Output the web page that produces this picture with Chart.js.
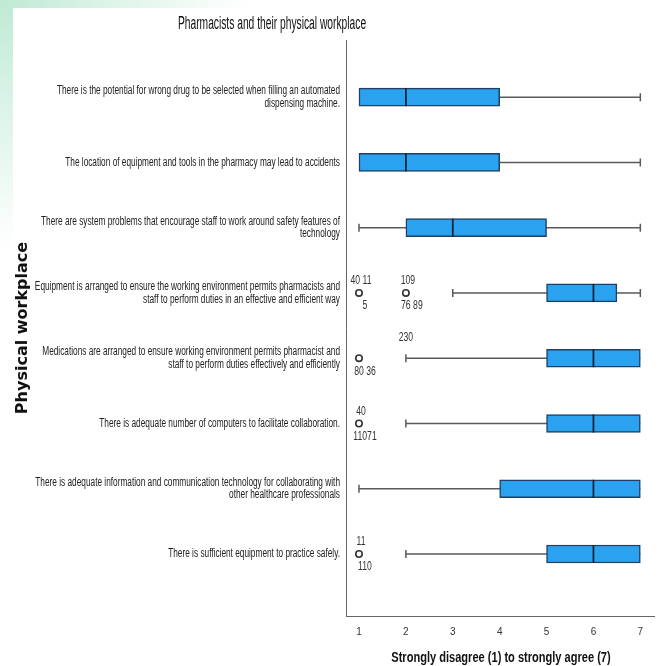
<!DOCTYPE html>
<html>
<head>
<meta charset="utf-8">
<script src="https://cdn.jsdelivr.net/npm/chart.js@4.4.1/dist/chart.umd.min.js"></script>
<style>
html, body { margin: 0; padding: 0; background: #fff; }
#wrap {
    width: 660px; height: 666px; position: relative;
    background: radial-gradient(circle at 0 0, #bfe9d3 0, #dcf4e8 110px, #fff 250px);
}
</style>
</head>
<body>
<div id="wrap"><canvas id="workplace_chart"></canvas></div>
<script>
const categories = [
    ['There is the potential for wrong drug to be selected when filling an automated', 'dispensing machine.'],
    'The location of equipment and tools in the pharmacy may lead to accidents',
    ['There are system problems that encourage staff to work around safety features of', 'technology'],
    ['Equipment is arranged to ensure the working environment permits pharmacists and', 'staff to perform duties in an effective and efficient way'],
    ['Medications are arranged to ensure working environment permits pharmacist and', 'staff to perform duties effectively and efficiently'],
    'There is adequate number of computers to facilitate collaboration.',
    ['There is adequate information and communication technology for collaborating with', 'other healthcare professionals'],
    'There is sufficient equipment to practice safely.'
];
const mins    = [1, 1, 1, 3, 2, 2, 1, 2];
const q1s     = [1, 1, 2, 5, 5, 5, 4, 5];
const medians = [2, 2, 3, 6, 6, 6, 6, 6];
const q3s     = [4, 4, 5, 6.5, 7, 7, 7, 7];
const maxs    = [7, 7, 7, 7, 7, 7, 7, 7];
const xTicks  = [1, 2, 3, 4, 5, 6, 7];

// outliers (circles) with their case numbers
const outlierRows   = [3, 3, 4, 5, 7];
const outlierValues = [1, 2, 1, 1, 1];
const outlierAbove  = ['40 11', '109', '', '40', '11'];
const outlierBelow  = ['5', '76 89', '80 36', '11071', '110'];
// case label printed without a circle
const looseRows   = [4];
const looseValues = [2];
const looseText   = ['230'];

const chartTitle = 'Pharmacists and their physical workplace';
const xTitle = 'Strongly disagree (1) to strongly agree (7)';
const yTitle = 'Physical workplace';

const SANS = "'Liberation Sans', Arial, sans-serif";

// SPSS output is squeezed sideways, so text is drawn with a horizontal scale
function squeezeText(ctx, text, x, y, sx, align) {
    ctx.save();
    ctx.translate(x, y);
    ctx.scale(sx, 1);
    ctx.textAlign = align;
    ctx.fillText(text, 0, 0);
    ctx.restore();
}

const boxExtras = {
    id: 'boxExtras',
    beforeDraw(chart) {
        const ctx = chart.ctx;
        ctx.save();
        ctx.fillStyle = '#fff';
        ctx.fillRect(13, 8, chart.width - 13, chart.height - 8);
        ctx.restore();
    },
    beforeDatasetsDraw(chart) {
        const {ctx, scales: {x, y}} = chart;
        ctx.save();
        ctx.strokeStyle = '#5a5a5a';
        ctx.lineWidth = 1.5;
        mins.forEach((m, i) => {
            const yy = y.getPixelForValue(i);
            const x0 = x.getPixelForValue(m);
            const x1 = x.getPixelForValue(maxs[i]);
            ctx.beginPath();
            ctx.moveTo(x0, yy);
            ctx.lineTo(x1, yy);
            if (m < q1s[i]) {
                ctx.moveTo(x0, yy - 4);
                ctx.lineTo(x0, yy + 4);
            }
            if (maxs[i] > q3s[i]) {
                ctx.moveTo(x1, yy - 4);
                ctx.lineTo(x1, yy + 4);
            }
            ctx.stroke();
        });
        ctx.restore();
    },
    afterDatasetsDraw(chart) {
        const {ctx, scales: {x, y}} = chart;
        ctx.save();
        // medians
        ctx.strokeStyle = '#0f2436';
        ctx.lineWidth = 1.8;
        medians.forEach((m, i) => {
            const yy = y.getPixelForValue(i);
            const xx = x.getPixelForValue(m);
            ctx.beginPath();
            ctx.moveTo(xx, yy - 9);
            ctx.lineTo(xx, yy + 9);
            ctx.stroke();
        });
        // case labels
        ctx.fillStyle = '#333';
        ctx.font = '12px ' + SANS;
        ctx.textBaseline = 'middle';
        outlierRows.forEach((r, i) => {
            const yy = y.getPixelForValue(r);
            const xx = x.getPixelForValue(outlierValues[i]);
            if (outlierAbove[i]) squeezeText(ctx, outlierAbove[i], xx + 2, yy - 12, 0.72, 'center');
            if (outlierBelow[i]) squeezeText(ctx, outlierBelow[i], xx + 6, yy + 13, 0.72, 'center');
        });
        looseRows.forEach((r, i) => {
            squeezeText(ctx, looseText[i], x.getPixelForValue(looseValues[i]), y.getPixelForValue(r) - 21, 0.72, 'center');
        });
        ctx.restore();
    },
    afterDraw(chart) {
        const {ctx, chartArea, scales: {y}} = chart;
        ctx.save();
        ctx.fillStyle = '#222';
        ctx.textBaseline = 'middle';
        // category labels, right aligned against the axis
        ctx.font = '12px ' + SANS;
        categories.forEach((c, i) => {
            const lines = Array.isArray(c) ? c : [c];
            const yc = y.getPixelForValue(i);
            lines.forEach((line, k) => {
                const yy = yc + (k - (lines.length - 1) / 2) * 12.5;
                squeezeText(ctx, line, chartArea.left - 6, yy, 0.69, 'right');
            });
        });
        // chart title
        ctx.fillStyle = '#111';
        ctx.font = '18px ' + SANS;
        squeezeText(ctx, chartTitle, 272, 24, 0.57, 'center');
        // x axis title
        ctx.font = 'bold 14px ' + SANS;
        squeezeText(ctx, xTitle, 501, 658, 0.79, 'center');
        ctx.restore();
    }
};

const ctx = document.getElementById('workplace_chart').getContext('2d');
const workplaceChart = new Chart(ctx, {
    type: 'bar',
    data: {
        datasets: [{
            type: 'bar',
            data: categories.map((c, i) => ({y: i, x: [q1s[i], q3s[i]]})),
            backgroundColor: '#2ba2ef',
            borderColor: '#1d4064',
            borderWidth: 1.5,
            borderSkipped: false,
            barThickness: 18,
            order: 2
        }, {
            type: 'scatter',
            data: outlierRows.map((r, i) => ({x: outlierValues[i], y: r})),
            pointRadius: 3.2,
            pointBorderWidth: 1.6,
            borderColor: '#333',
            backgroundColor: '#fff',
            order: 1
        }]
    },
    options: {
        indexAxis: 'y',
        responsive: true,
        maintainAspectRatio: false,
        animation: false,
        layout: {
            padding: {top: 40, left: 0, right: 0, bottom: 0}
        },
        plugins: {
            legend: {display: false},
            tooltip: {enabled: false},
            title: {display: false}
        },
        scales: {
            x: {
                type: 'linear',
                position: 'bottom',
                offset: false,
                min: 0.723,
                max: 7.30,
                afterBuildTicks: (scale) => { scale.ticks = xTicks.map(v => ({value: v})); },
                afterFit: (scale) => { scale.height = 50; },
                grid: {display: false, drawTicks: false, offset: false},
                border: {display: true, color: '#666', width: 1},
                ticks: {
                    padding: 10,
                    color: '#333',
                    font: {family: SANS, size: 10}
                },
                title: {display: false}
            },
            y: {
                type: 'linear',
                reverse: true,
                offset: false,
                min: -0.876,
                max: 7.95,
                afterBuildTicks: (scale) => { scale.ticks = categories.map((c, i) => ({value: i})); },
                afterFit: (scale) => { scale.width = 346; },
                grid: {display: false, drawTicks: false, offset: false},
                border: {display: true, color: '#666', width: 1},
                ticks: {display: false},
                title: {
                    display: true,
                    text: yTitle,
                    color: '#111',
                    font: {family: "'DejaVu Sans', sans-serif", size: 16, weight: 'bold'},
                    padding: {top: 13, bottom: 0}
                }
            }
        }
    },
    plugins: [boxExtras]
});
</script>
</body>
</html>
